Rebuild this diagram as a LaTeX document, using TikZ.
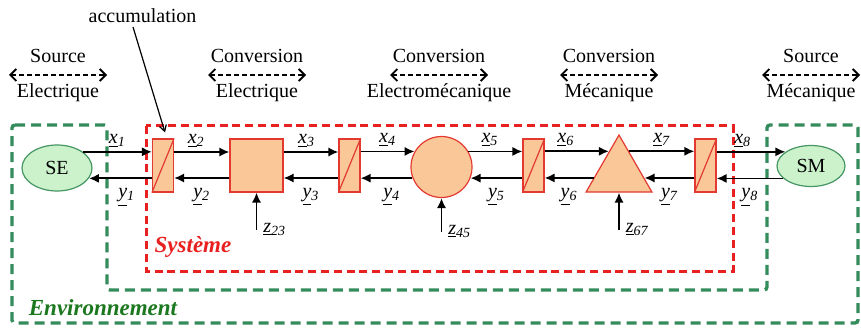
\documentclass[tikz,border=0pt]{standalone}
\usepackage{fontspec}
\setmainfont{Liberation Serif}
\usetikzlibrary{arrows.meta,backgrounds,calc,shapes.geometric}
\definecolor{blkfill}{RGB}{250,199,152}
\definecolor{blkred}{RGB}{226,58,48}
\definecolor{srcfill}{RGB}{204,242,204}
\definecolor{srcgreen}{RGB}{70,150,100}
\definecolor{envgreen}{RGB}{52,140,92}
\definecolor{envtext}{RGB}{28,120,30}
\definecolor{sysred}{RGB}{232,32,32}

\begin{document}
\begin{tikzpicture}[
  x=0.5pt,
  y=0.5pt,
  font=\fontsize{10}{12}\selectfont,
  sig/.style={
    draw=black,
    line width=0.9pt,
    -{Latex[length=5pt,width=4.6pt]}
  },
  acc arrow/.style={
    draw=black,
    line width=0.6pt,
    -{Straight Barb[length=3pt,width=3.5pt]}
  },
  dom arrow/.style={
    draw=black,
    line width=0.9pt,
    dash pattern=on 2.4pt off 1.6pt,
    {Straight Barb[length=3pt,width=6pt]}-{Straight Barb[length=3pt,width=6pt]}
  },
  op box/.style={
    draw=blkred,
    fill=blkfill,
    line width=0.6pt,
    inner sep=0pt
  },
  accu/.style={
    op box,
    minimum width=10.5pt,
    minimum height=26.5pt
  },
  accu diag/.style={
    draw=blkred,
    line width=0.6pt
  },
  src/.style={
    ellipse,
    draw=srcgreen,
    fill=srcfill,
    line width=0.6pt,
    inner sep=0pt
  },
  above lab/.style={above, inner sep=0.8pt, yshift=1pt},
  below lab/.style={below, inner sep=1.2pt, yshift=-3.5pt},
  z lab/.style={anchor=base west, inner sep=0pt, xshift=3pt, yshift=-1pt},
  dom text/.style={anchor=base, inner sep=0pt},
  sys frame/.style={
    draw=sysred,
    line width=1.5pt,
    dash pattern=on 4pt off 2.4pt
  },
  env frame/.style={
    draw=envgreen,
    line width=1.7pt,
    dash pattern=on 5pt off 3pt,
    rounded corners=1.5pt
  },
  frame text/.style={font=\fontsize{11.5}{13}\selectfont\bfseries\itshape}
]

\def\flow#1#2{\textit{\underline{#1}\textsubscript{#2}}}

\useasboundingbox (0,0) rectangle (861,327);

\coordinate (xrow) at (0,175);
\coordinate (yrow) at (0,149);
\coordinate (zrow) at (0,97);

% domains above the chain
\foreach \dx/\dtop/\dbot [count=\i] in {
  58/Source/Electrique,
  257/Conversion/Electrique,
  439/Conversion/Electromécanique,
  609/Conversion/Mécanique,
  811/Source/Mécanique
}{
  \node[dom text] (dom\i-top) at (\dx,264) {\dtop};
  \node[dom text] (dom\i-bot) at (\dx,229) {\dbot};
  \coordinate (dom\i-l) at (\dx-49,252);
  \coordinate (dom\i-r) at (\dx+49,252);
  \draw[dom arrow] (dom\i-l) -- (dom\i-r);
}

% sources
\node[src, minimum width=35pt, minimum height=23pt] (SE) at (57,159) {SE};
\node[src, minimum width=34pt, minimum height=20.5pt] (SM) at (811,161) {SM};

% accumulation elements
\foreach \bname/\bx in {b1/163, b2/349.5, b3/533.5, b4/705.5}{
  \node[accu] (\bname) at (\bx,161.5) {};
  \draw[accu diag] (\bname.south west) -- (\bname.north east);
}

% conversion elements
\node[op box, minimum size=26.5pt] (sq) at (256.5,161.5) {};
\node[op box, circle, minimum size=30.5pt] (circ) at (441.5,160) {};
\node[op box, regular polygon, regular polygon sides=3, minimum size=38pt]
  (tri) at (619,154) {};

\node[dom text] (acc) at (142.5,304) {accumulation};
\draw[acc arrow] ([xshift=-4.75pt,yshift=-1.7pt]acc.south)
  -- ([xshift=1pt,yshift=3pt]b1.north);

% forward flows
\draw[sig] (SE.32) -- node[above lab, pos=.5] {\flow{x}{1}} (b1.west |- SE.32);
\draw[sig] (b1.east |- xrow) -- node[above lab, pos=.4] {\flow{x}{2}} (sq.west |- xrow);
\draw[sig] (sq.east |- xrow) -- node[above lab, pos=.42] {\flow{x}{3}} (b2.west |- xrow);
\draw[sig] (b2.east |- circ.150) -- node[above lab, pos=.5] {\flow{x}{4}} (circ.150);
\draw[sig] (circ.30) -- node[above lab, pos=.4] {\flow{x}{5}} (b3.west |- circ.30);
\draw[sig] (b3.east |- tri.115) -- node[above lab, pos=.33] {\flow{x}{6}} (tri.115);
\draw[sig] (tri.65) -- node[above lab, pos=.5] {\flow{x}{7}} (b4.west |- tri.65);
\draw[sig] (b4.east |- SM.151) -- node[above lab, pos=.38] {\flow{x}{8}} (SM.151);

% backward flows
\draw[sig] (b1.west |- SE.342) -- node[below lab, pos=.4] {\flow{y}{1}} (SE.342);
\draw[sig] (sq.west |- yrow) -- node[below lab, pos=.5] {\flow{y}{2}} (b1.east |- yrow);
\draw[sig] (b2.west |- yrow) -- node[below lab, pos=.5] {\flow{y}{3}} (sq.east |- yrow);
\draw[sig] (circ.201) -- node[below lab, pos=.4] {\flow{y}{4}} (b2.east |- circ.201);
\draw[sig] (b3.west |- circ.339) -- node[below lab, pos=.5] {\flow{y}{5}} (circ.339);
\draw[sig] (tri.191) -- node[below lab, pos=.5] {\flow{y}{6}} (b3.east |- tri.191);
\draw[sig] (b4.west |- tri.349) -- node[below lab, pos=.5] {\flow{y}{7}} (tri.349);
\draw[sig] (SM.204) -- node[below lab, pos=.5] {\flow{y}{8}} (b4.east |- SM.204);

% disturbances
\draw[sig] (sq.south |- zrow) node[z lab] {\flow{z}{23}} -- (sq.south);
\draw[sig] ([yshift=-1pt]circ.south |- zrow) node[z lab] {\flow{z}{45}} -- (circ.south);
\draw[sig] (tri.south |- zrow) node[z lab] {\flow{z}{67}} -- (tri.south);

% frames
\begin{scope}[on background layer]
  \draw[sys frame] (146,201) rectangle (733,56);
  \draw[env frame] (12,202) -- (107,202) -- (107,37) -- (767,37) -- (767,202)
    -- (858,202) -- (858,4) -- (12,4) -- cycle;
\end{scope}
\node[frame text, text=sysred] (sys) at (193,80) {Système};
\node[frame text, text=envtext] (env) at (103,19) {Environnement};

\end{tikzpicture}
\end{document}
